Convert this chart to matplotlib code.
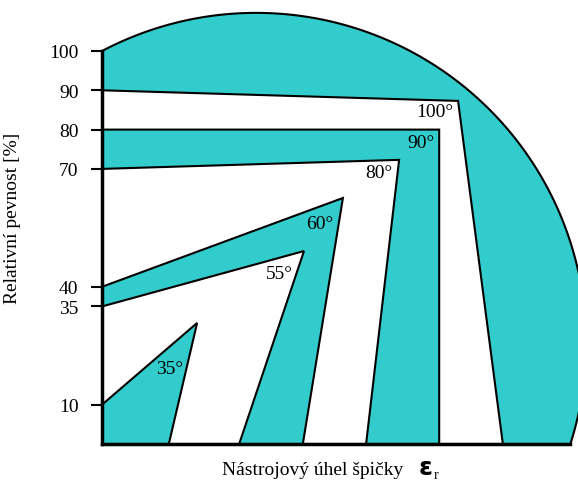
import numpy as np
import matplotlib.pyplot as plt
from matplotlib.patches import Polygon

plt.rcParams['font.family'] = ['Liberation Serif', 'DejaVu Serif']

TEAL = '#33cccc'

# strength levels marked on the axis [%]
yticks = [10, 35, 40, 70, 80, 90, 100]

# outer boundary is a circular arc (x uses the same units as y)
arc_centre = (39.2, 25.7)
arc_radius = 84.0

# white gaps between the teal bands, corner points
gap_100 = [(0, 90), (90.6, 87.3), (102.0, 0), (85.8, 0), (85.8, 80), (0, 80)]
gap_80 = [(0, 70), (75.6, 72.3), (67.2, 0), (51.1, 0), (61.3, 62.6), (0, 40)]
gap_55 = [(0, 35), (51.4, 49.1), (34.9, 0), (17.0, 0), (24.2, 30.8), (0, 10)]

# angle labels: text, right edge x, centre y
angle_labels = ['100°', '90°', '80°', '60°', '55°', '35°']
label_x = [89.3, 84.7, 73.8, 58.8, 48.6, 20.6]
label_y = [84.5, 76.8, 69.0, 56.2, 43.3, 19.1]

W, H = 578, 485
fig = plt.figure(figsize=(W / 100, H / 100), dpi=100)
ax = fig.add_axes([102 / W, 40 / H, 476 / W, 445 / H])
ax.set_xlim(0, 476 / 3.93)
ax.set_ylim(0, 445 / 3.93)

# teal quarter-disc: arc from the top of the axis down to the baseline
cx, cy = arc_centre
a0 = np.arctan2(100 - cy, 0 - cx)
x_end = cx + np.sqrt(arc_radius**2 - cy**2)
a1 = np.arctan2(0 - cy, x_end - cx)
t = np.linspace(a0, a1, 300)
outline = np.column_stack([cx + arc_radius * np.cos(t), cy + arc_radius * np.sin(t)])
outline = np.vstack([outline, [[0, 0]]])
ax.add_patch(Polygon(outline, closed=True, facecolor=TEAL, edgecolor='black', lw=1.5, zorder=1))

for gap in (gap_100, gap_80, gap_55):
    ax.add_patch(Polygon(gap, closed=True, facecolor='white', edgecolor='black', lw=1.5, zorder=2))

for txt, x, y in zip(angle_labels, label_x, label_y):
    ax.text(x, y, txt, ha='right', va='center', fontsize=14, zorder=3)

for side in ('top', 'right'):
    ax.spines[side].set_visible(False)
ax.spines['left'].set_bounds(0, 100)
ax.spines['bottom'].set_bounds(0, x_end)
ax.spines['left'].set_linewidth(2.5)
ax.spines['bottom'].set_linewidth(2.5)
for s in ax.spines.values():
    s.set_zorder(4)

ax.set_xticks([])
ax.set_yticks(yticks)
ax.tick_params(axis='y', direction='out', length=8, width=1.5, pad=9, labelsize=14)
ax.set_facecolor('none')

ax.set_ylabel('Relativní pevnost [%]', fontsize=14)
ax.yaxis.set_label_coords(-81 / 476, 0.51)

fig.text(222 / W, 1 - 475 / H, 'Nástrojový úhel špičky', fontsize=14, ha='left', va='baseline')
fig.text(419 / W, 1 - 475 / H, 'ε', fontsize=18, fontweight='bold', family='DejaVu Sans', ha='left', va='baseline')
fig.text(434 / W, 1 - 479 / H, 'r', fontsize=10, ha='left', va='baseline')

fig.savefig('out.png', dpi=100)
